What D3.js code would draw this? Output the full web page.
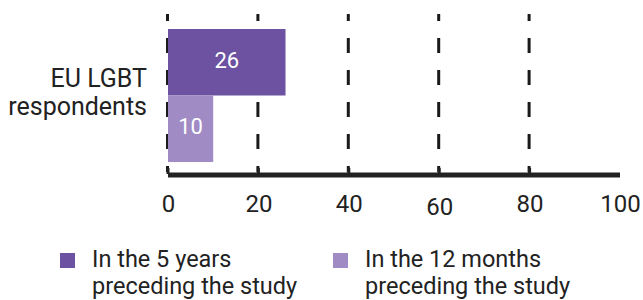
<!DOCTYPE html>
<html>
<head>
<meta charset="utf-8">
<script src="https://cdn.jsdelivr.net/npm/d3@7"></script>
<style>
  body { margin: 0; background: #fff; }
  text { font-family: Roboto, "Noto Sans", sans-serif; font-weight: 400; }
</style>
</head>
<body>
<svg id="chart" width="643" height="300"></svg>
<script>
// data
var category = ["EU LGBT", "respondents"];
var seriesNames = [["In the 5 years", "preceding the study"], ["In the 12 months", "preceding the study"]];
var seriesValues = [26, 10];
var seriesColors = ["#6c52a0", "#a08bc4"];
var tickValues = [0, 20, 40, 60, 80, 100];
var gridValues = [0, 20, 40, 60, 80];

var svg = d3.select("#chart");
var margin = { top: 14, left: 168, right: 23, axis: 175 };

var x = d3.scaleLinear().domain([0, 100]).range([margin.left, 643 - margin.right]);
var y = d3.scaleBand().domain(d3.range(seriesValues.length)).range([29, 162]).padding(0);

// dashed grid lines
svg.append("g").selectAll("line")
    .data(gridValues)
    .enter().append("line")
    .attr("x1", function (d) { return x(d) - 0.5; })
    .attr("x2", function (d) { return x(d) - 0.5; })
    .attr("y1", margin.top)
    .attr("y2", 172)
    .attr("stroke", "#1a1a1a")
    .attr("stroke-width", 3)
    .attr("stroke-dasharray", "15,17")
    .attr("stroke-dashoffset", 8);

// bars
svg.append("g").selectAll("rect")
    .data(seriesValues)
    .enter().append("rect")
    .attr("x", x(0))
    .attr("y", function (d, i) { return y(i); })
    .attr("width", function (d) { return x(d) - x(0); })
    .attr("height", y.bandwidth())
    .attr("fill", function (d, i) { return seriesColors[i]; });

svg.append("g").selectAll("text")
    .data(seriesValues)
    .enter().append("text")
    .attr("x", function (d) { return (x(0) + x(d)) / 2; })
    .attr("y", function (d, i) { return y(i) + y.bandwidth() / 2; })
    .attr("dy", "0.26em")
    .attr("text-anchor", "middle")
    .attr("fill", "#fff")
    .attr("font-size", 22)
    .text(function (d) { return d; });

// category label
svg.append("text")
    .attr("text-anchor", "end")
    .attr("fill", "#222")
    .attr("font-size", 25)
    .selectAll("tspan")
    .data(category)
    .enter().append("tspan")
    .attr("x", 147)
    .attr("y", function (d, i) { return 87 + i * 28; })
    .text(function (d) { return d; });

// x axis
var axis = svg.append("g")
    .attr("transform", "translate(0," + margin.axis + ")")
    .call(d3.axisBottom(x).tickValues(tickValues).tickSize(0).tickPadding(0));
axis.select(".domain")
    .attr("stroke", "#222")
    .attr("stroke-width", 5)
    .attr("d", "M" + x(0) + ",0H" + x(100));
axis.selectAll(".tick text")
    .attr("font-family", "Roboto, sans-serif")
    .attr("font-size", 24)
    .attr("fill", "#222")
    .attr("y", function (d) { return d === 60 ? 40 : 37; })
    .attr("dy", 0);

// small tick marks above the axis
svg.append("g").selectAll("line")
    .data(gridValues)
    .enter().append("line")
    .attr("x1", function (d) { return x(d); })
    .attr("x2", function (d) { return x(d); })
    .attr("y1", 168)
    .attr("y2", 174)
    .attr("stroke", "#222")
    .attr("stroke-width", 3);

// legend
var legend = svg.append("g").selectAll("g")
    .data(seriesNames)
    .enter().append("g")
    .attr("transform", function (d, i) { return "translate(" + (60 + i * 273) + ",0)"; });

legend.append("rect")
    .attr("x", 0)
    .attr("y", 253)
    .attr("width", 15)
    .attr("height", 15)
    .attr("fill", function (d, i) { return seriesColors[i]; });

legend.append("text")
    .attr("fill", "#222")
    .attr("font-size", 23.5)
    .selectAll("tspan")
    .data(function (d) { return d; })
    .enter().append("tspan")
    .attr("x", 32)
    .attr("y", function (d, i) { return 267 + i * 27; })
    .text(function (d) { return d; });
</script>
</body>
</html>
